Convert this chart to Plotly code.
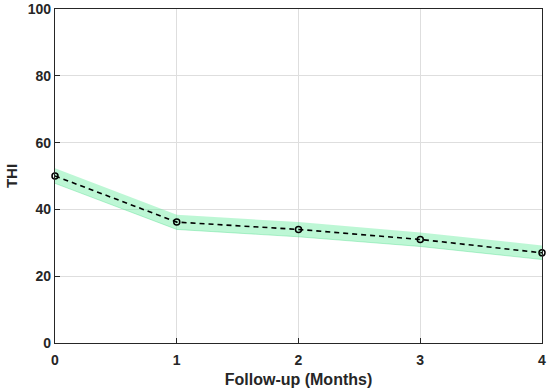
import plotly.graph_objects as go

months = [0, 1, 2, 3, 4]
thi_mean = [50, 36.2, 34, 31, 27]
thi_upper = [52.3, 38.4, 36.2, 33.1, 29.2]
thi_lower = [47.8, 34.0, 31.8, 28.9, 25.0]

FONT = "Liberation Sans, Arial"

fig = go.Figure()
fig.add_trace(go.Scatter(x=months, y=thi_upper, mode="lines", line=dict(width=0, color="rgba(0,0,0,0)"),
                         showlegend=False, hoverinfo="skip"))
fig.add_trace(go.Scatter(x=months, y=thi_lower, mode="lines", line=dict(width=0.8, color="rgba(80,220,140,0.5)"),
                         fill="tonexty", fillcolor="rgba(90,235,150,0.4)", showlegend=False, hoverinfo="skip"))
fig.add_trace(go.Scatter(x=months, y=thi_mean, mode="lines+markers", cliponaxis=False,
                         line=dict(color="black", width=1.6, dash="5px,4px"),
                         marker=dict(symbol="circle-open", size=6, color="black", line=dict(width=1.5)),
                         showlegend=False))

axis_common = dict(showline=True, linecolor="#262626", linewidth=1.3, mirror=True,
                   ticks="inside", ticklen=5, tickcolor="#262626", automargin=False,
                   showgrid=True, gridcolor="#dedede", gridwidth=1, zeroline=False,
                   ticklabeloverflow="allow",
                   tickfont=dict(family=FONT, size=14, color="#262626", weight="bold"))

fig.update_xaxes(range=[0, 4], tickvals=[0, 1, 2, 3, 4], ticklabelstandoff=4,
                 title=dict(text="Follow-up (Months)", font=dict(family=FONT, size=16, color="#262626", weight="bold"), standoff=6),
                 **axis_common)
fig.update_yaxes(range=[0, 100], tickvals=[0, 20, 40, 60, 80, 100],
                 title=dict(text="THI", font=dict(family=FONT, size=15, color="#262626", weight="bold"), standoff=6),
                 **axis_common)

fig.update_layout(width=550, height=392, margin=dict(l=55, r=8, t=9, b=49),
                  plot_bgcolor="white", paper_bgcolor="white",
                  font=dict(family=FONT, size=14, color="#262626"))

fig.write_html("out.html", config={"displayModeBar": False},
               post_script="document.body.style.margin='0';")
